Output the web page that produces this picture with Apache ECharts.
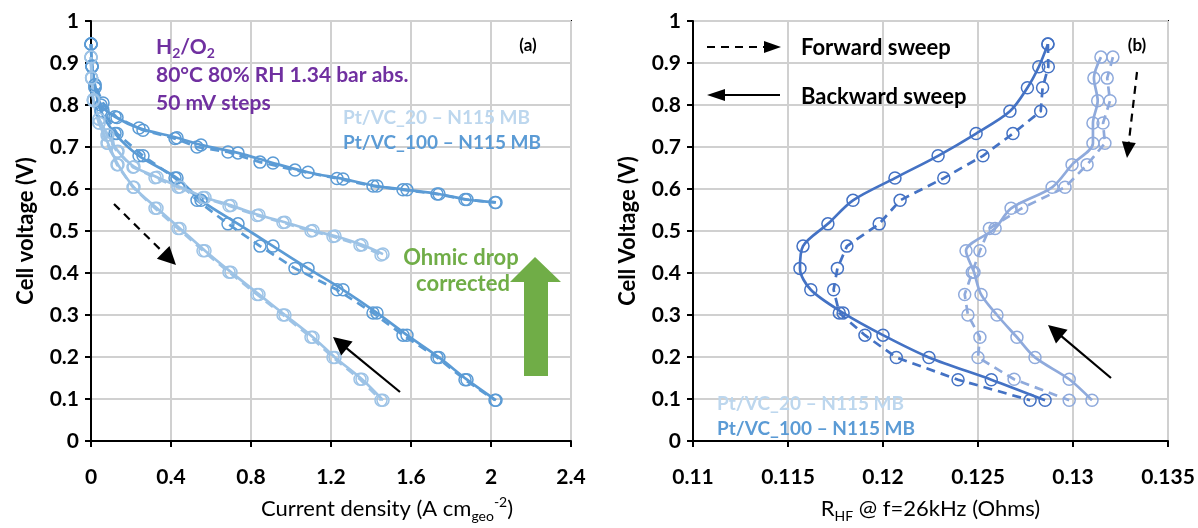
<!DOCTYPE html>
<html>
<head>
<meta charset="utf-8">
<script src="https://cdn.jsdelivr.net/npm/echarts@6/dist/echarts.min.js"></script>
<style>
  html, body { margin: 0; padding: 0; background: #fff; }
  #chart { width: 1198px; height: 528px; }
</style>
</head>
<body>
<div id="chart"></div>
<script>
// ---- Polarisation data (panel a): current density (A/cm2) vs cell voltage (V) ----
const v100 = [0.945, 0.891, 0.841, 0.785, 0.732, 0.679, 0.626, 0.573, 0.517, 0.464, 0.411, 0.360, 0.305, 0.252, 0.199, 0.146, 0.097];
const v20  = [0.914, 0.864, 0.810, 0.757, 0.709, 0.658, 0.604, 0.554, 0.506, 0.453, 0.402, 0.349, 0.300, 0.247, 0.199, 0.147, 0.097];

const j100Fwd = [0, 0.005, 0.02, 0.06, 0.13, 0.26, 0.42, 0.53, 0.685, 0.845, 1.02, 1.23, 1.41, 1.56, 1.73, 1.87, 2.02];
const j100Bwd = [0, 0.005, 0.02, 0.05, 0.12, 0.24, 0.43, 0.55, 0.735, 0.91, 1.085, 1.26, 1.43, 1.58, 1.74, 1.88, 2.025];
const vCorr100Fwd = [0.945, 0.893, 0.848, 0.805, 0.770, 0.740, 0.720, 0.700, 0.688, 0.664, 0.645, 0.625, 0.607, 0.598, 0.588, 0.575, 0.568];
const vCorr100Bwd = [0.945, 0.893, 0.848, 0.800, 0.772, 0.745, 0.722, 0.705, 0.686, 0.662, 0.640, 0.624, 0.607, 0.598, 0.588, 0.575, 0.568];

const j20Fwd = [0, 0.003, 0.012, 0.04, 0.08, 0.13, 0.21, 0.32, 0.435, 0.56, 0.69, 0.83, 0.96, 1.10, 1.21, 1.345, 1.45];
const j20Bwd = [0, 0.003, 0.012, 0.04, 0.085, 0.135, 0.215, 0.33, 0.445, 0.57, 0.70, 0.84, 0.97, 1.11, 1.22, 1.355, 1.46];
const vCorr20Fwd = [0.914, 0.865, 0.813, 0.767, 0.728, 0.689, 0.652, 0.627, 0.604, 0.580, 0.560, 0.537, 0.520, 0.500, 0.487, 0.466, 0.443];
const vCorr20Bwd = [0.914, 0.865, 0.813, 0.766, 0.729, 0.690, 0.653, 0.628, 0.605, 0.580, 0.561, 0.538, 0.521, 0.501, 0.488, 0.467, 0.445];

// ---- High-frequency resistance (panel b): R_HF (Ohms) at each voltage step ----
const r100Fwd = [0.12868, 0.1287, 0.1284, 0.1283, 0.12684, 0.12526, 0.1232, 0.1209, 0.1198, 0.1181, 0.1176, 0.1174, 0.1177, 0.11905, 0.1207, 0.12395, 0.12774];
const r100Bwd = [0.12868, 0.1282, 0.1276, 0.12668, 0.1249, 0.1229, 0.12063, 0.11842, 0.1171, 0.11579, 0.11563, 0.1162, 0.1179, 0.1200, 0.12242, 0.1257, 0.12853];
const r20Fwd  = [0.1321, 0.1318, 0.13195, 0.13158, 0.13168, 0.13074, 0.12958, 0.1273, 0.1256, 0.1251, 0.1247, 0.1243, 0.12447, 0.1251, 0.1250, 0.1269, 0.1298];
const r20Bwd  = [0.13147, 0.1311, 0.1313, 0.13105, 0.13105, 0.12995, 0.1289, 0.12674, 0.1259, 0.12437, 0.12479, 0.12516, 0.1260, 0.12705, 0.1280, 0.1298, 0.1310];

// ---- Labels ----
const sample20 = 'Pt/VC_20 \u2013 N115 MB';
const sample100 = 'Pt/VC_100 \u2013 N115 MB';
const conditionLines = ['{a|H}{s|2}{a|/O}{s|2}', '80\u00b0C 80% RH 1.34 bar abs.', '50 mV steps'];

const FONT = 'Lato, "Noto Sans", sans-serif';
const COL_100_A = '#5B9BD5';
const COL_20_A = '#9DC3E6';
const COL_100_B = '#4472C4';
const COL_20_B = '#8FAADC';
const PURPLE = '#7030A0';
const GREEN = '#70AD47';

function zip(xs, ys) { return xs.map((x, i) => [x, ys[i]]); }

function curve(name, data, color, dashed, gi) {
  return {
    name, type: 'line', data,
    xAxisIndex: gi, yAxisIndex: gi,
    smooth: dashed ? false : 0.3,
    symbol: 'circle', symbolSize: 12,
    itemStyle: { color: 'rgba(255,255,255,0)', borderColor: color, borderWidth: 1.5 },
    lineStyle: { color, width: 2.7, type: dashed ? [9, 6] : 'solid' },
    emphasis: { disabled: true },
    z: dashed ? 3 : 4
  };
}

function numFmt(v) { return String(+v.toFixed(3)); }

// shift = horizontal offset of the axis title from the centre of the axis
function xAxis(gi, min, max, interval, name, shift) {
  return {
    type: 'value', gridIndex: gi, min, max, interval,
    axisLine: { show: true, onZero: false, lineStyle: { color: '#000', width: 2 } },
    axisTick: { show: true, length: 6, lineStyle: { color: '#000', width: 2 } },
    splitLine: { show: true, lineStyle: { color: '#d0d0d0', width: 2 } },
    axisLabel: { color: '#000', fontSize: 21, fontWeight: 'bold', fontFamily: FONT, margin: 26, formatter: numFmt },
    name, nameLocation: 'middle', nameGap: 54,
    nameTextStyle: { rich: titleRich, padding: [0, 0, 0, 2 * shift] }
  };
}

function yAxis(gi, name, gap) {
  return {
    type: 'value', gridIndex: gi, min: 0, max: 1, interval: 0.1,
    axisLine: { show: true, onZero: false, lineStyle: { color: '#000', width: 2 } },
    axisTick: { show: true, length: 6, lineStyle: { color: '#000', width: 2 } },
    splitLine: { show: true, lineStyle: { color: '#d0d0d0', width: 2 } },
    axisLabel: { color: '#000', fontSize: 21, fontWeight: 'bold', fontFamily: FONT, margin: 12, formatter: numFmt },
    name, nameLocation: 'middle', nameGap: gap,
    nameTextStyle: { color: '#000', fontSize: 22, fontWeight: 'bold', fontFamily: FONT }
  };
}

const titleRich = {
  t: { color: '#000', fontSize: 22, fontFamily: FONT, lineHeight: 28 },
  sub: { color: '#000', fontSize: 14, fontFamily: FONT, lineHeight: 14, verticalAlign: 'bottom' },
  sup: { color: '#000', fontSize: 14, fontFamily: FONT, lineHeight: 14, verticalAlign: 'top' }
};

// arrow made of a shaft and a triangular head pointing at (x2, y2)
function arrow(x1, y1, x2, y2, dashed, headLen, headHalf, color) {
  const dx = x2 - x1, dy = y2 - y1, L = Math.hypot(dx, dy);
  const ux = dx / L, uy = dy / L;
  const bx = x2 - ux * headLen, by = y2 - uy * headLen;
  return [
    { type: 'line', silent: true, z: 20,
      shape: { x1, y1, x2: bx + ux, y2: by + uy },
      style: { stroke: color, lineWidth: 2.2, lineDash: dashed ? [8, 6] : null } },
    { type: 'polygon', silent: true, z: 20,
      shape: { points: [[x2, y2], [bx - uy * headHalf, by + ux * headHalf], [bx + uy * headHalf, by - ux * headHalf]] },
      style: { fill: color } }
  ];
}

function label(x, y, text, color, size, extra) {
  return { type: 'text', silent: true, z: 21,
    style: Object.assign({ x, y, text, fill: color, font: `bold ${size}px ${FONT}`, verticalAlign: 'middle' }, extra || {}) };
}

const graphics = [
  // panel (a) conditions
  label(156, 47, conditionLines[0], PURPLE, 21, {
    rich: {
      a: { fill: PURPLE, fontSize: 21, fontWeight: 'bold', fontFamily: FONT, lineHeight: 27 },
      s: { fill: PURPLE, fontSize: 14, fontWeight: 'bold', fontFamily: FONT, lineHeight: 14, verticalAlign: 'bottom' }
    }
  }),
  label(156, 75, conditionLines[1], PURPLE, 21),
  label(156, 103, conditionLines[2], PURPLE, 21),
  label(528, 46, '(a)', '#000', 17, { align: 'center' }),
  label(343, 118, sample20, '#BDD7EE', 19),
  label(343, 143, sample100, COL_100_A, 19),
  label(461, 258, 'Ohmic drop', GREEN, 22, { align: 'center' }),
  label(463, 284, 'corrected', GREEN, 22, { align: 'center' }),
  { type: 'polygon', silent: true, z: 20,
    shape: { points: [[535, 257], [561, 282], [548, 282], [548, 376], [524, 376], [524, 282], [510, 282]] },
    style: { fill: GREEN } },
  ...arrow(114, 204, 176, 265, true, 18, 9, '#000'),
  ...arrow(400, 392, 333, 337, false, 18, 9, '#000'),

  // panel (b) sweep key
  ...arrow(707, 47, 781, 47, true, 17, 6, '#000'),
  label(801, 48, 'Forward sweep', '#000', 22),
  ...arrow(780, 95, 707, 95, false, 18, 6, '#000'),
  label(801, 97, 'Backward sweep', '#000', 22),
  label(1137, 46, '(b)', '#000', 17, { align: 'center' }),
  ...arrow(1137, 72, 1127, 158, true, 16, 7, '#000'),
  ...arrow(1111, 378, 1048, 325, false, 18, 9, '#000'),
  label(717, 404, sample20, '#BDD7EE', 19),
  label(717, 429, sample100, COL_100_A, 19)
];

const option = {
  animation: false,
  backgroundColor: '#fff',
  textStyle: { fontFamily: FONT },
  grid: [
    { left: 91, top: 21, width: 480, height: 433, show: true, borderColor: '#000', borderWidth: 2, backgroundColor: 'transparent' },
    { left: 693, top: 21, width: 475, height: 433, show: true, borderColor: '#000', borderWidth: 2, backgroundColor: 'transparent' }
  ],
  xAxis: [
    xAxis(0, 0, 2.4, 0.4, '{t|Current density (A cm}{sub|geo}{sup|-2}{t|)}', 56),
    xAxis(1, 0.11, 0.135, 0.005, '{t|R}{sub|HF}{t| @ f=26kHz (Ohms)}', 0)
  ],
  yAxis: [
    yAxis(0, 'Cell voltage (V)', 54),
    yAxis(1, 'Cell Voltage (V)', 54)
  ],
  series: [
    curve('Pt/VC_100 forward', zip(j100Fwd, v100), COL_100_A, true, 0),
    curve('Pt/VC_100 backward', zip(j100Bwd, v100), COL_100_A, false, 0),
    curve('Pt/VC_100 forward iR-free', zip(j100Fwd, vCorr100Fwd), COL_100_A, true, 0),
    curve('Pt/VC_100 backward iR-free', zip(j100Bwd, vCorr100Bwd), COL_100_A, false, 0),
    curve('Pt/VC_20 forward', zip(j20Fwd, v20), COL_20_A, true, 0),
    curve('Pt/VC_20 backward', zip(j20Bwd, v20), COL_20_A, false, 0),
    curve('Pt/VC_20 forward iR-free', zip(j20Fwd, vCorr20Fwd), COL_20_A, true, 0),
    curve('Pt/VC_20 backward iR-free', zip(j20Bwd, vCorr20Bwd), COL_20_A, false, 0),

    curve('Pt/VC_100 forward HFR', zip(r100Fwd, v100), COL_100_B, true, 1),
    curve('Pt/VC_100 backward HFR', zip(r100Bwd, v100), COL_100_B, false, 1),
    curve('Pt/VC_20 forward HFR', zip(r20Fwd, v20), COL_20_B, true, 1),
    curve('Pt/VC_20 backward HFR', zip(r20Bwd, v20), COL_20_B, false, 1)
  ],
  graphic: graphics
};

const chart = echarts.init(document.getElementById('chart'), null, { renderer: 'canvas' });
chart.setOption(option);
</script>
</body>
</html>
